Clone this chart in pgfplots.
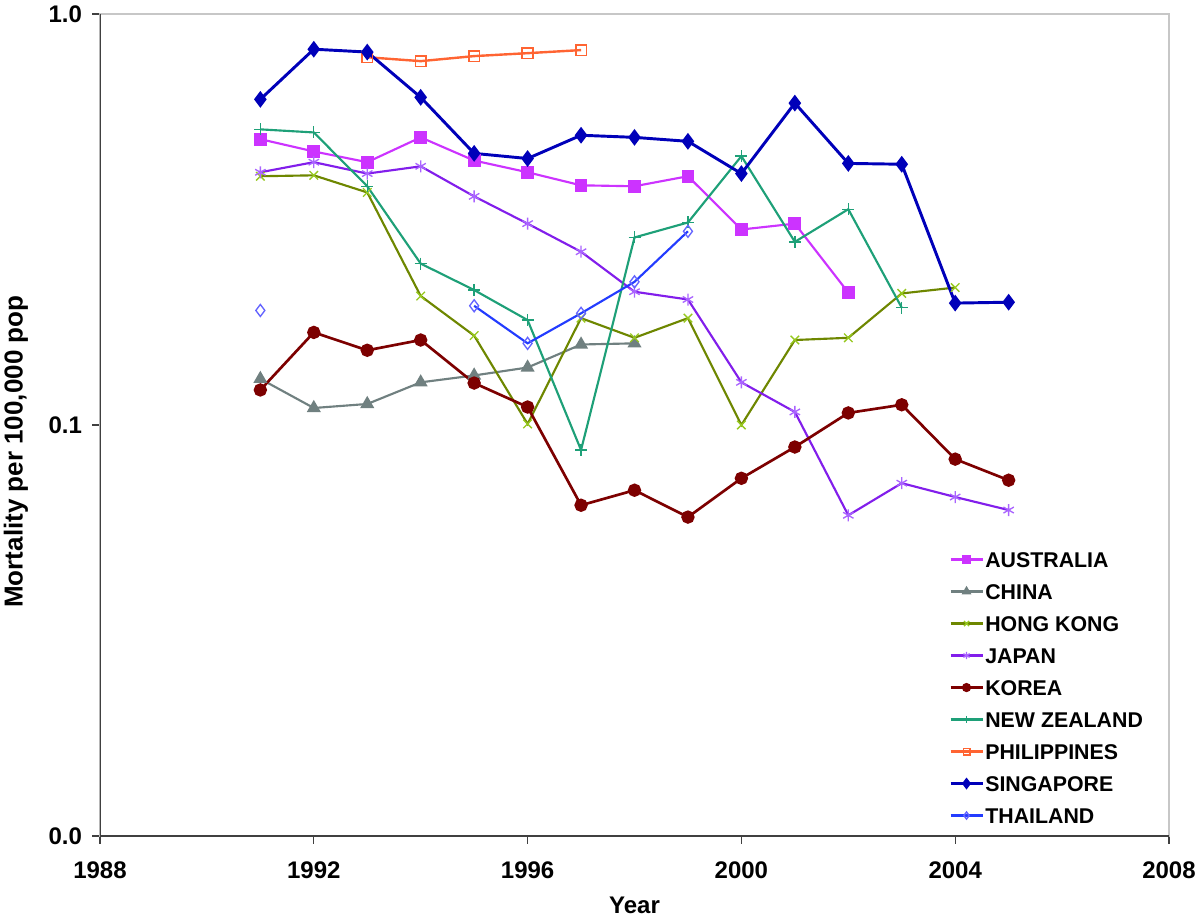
\documentclass[border=0pt]{standalone}
\usepackage{fontspec}
\setmainfont{Liberation Sans}
\usepackage{pgfplots}
\pgfplotsset{compat=1.18}
\definecolor{cAus}{RGB}{204,51,255}
\definecolor{cChi}{RGB}{112,128,128}
\definecolor{cHK}{RGB}{110,135,0}
\definecolor{cHKm}{RGB}{150,200,30}
\definecolor{cJap}{RGB}{130,30,235}
\definecolor{cJapm}{RGB}{170,100,255}
\definecolor{cKor}{RGB}{125,0,0}
\definecolor{cNZ}{RGB}{30,160,120}
\definecolor{cPhi}{RGB}{255,100,50}
\definecolor{cSin}{RGB}{0,0,185}
\definecolor{cTha}{RGB}{35,60,255}
\definecolor{cTham}{RGB}{100,100,255}
\begin{document}
\begin{tikzpicture}
\useasboundingbox (-75pt,-63pt) rectangle (825pt,627pt);
\begin{axis}[
 at={(0pt,0pt)}, anchor=south west,
 scale only axis, width=801.75pt, height=616.5pt,
 xmin=1988, xmax=2008, ymode=log, ymin=0.01, ymax=1,
 xtick={1988,1992,1996,2000,2004,2008},
 xticklabels={1988,1992,1996,2000,2004,2008},
 ytick={0.01,0.1,1}, yticklabels={0.0,0.1,1.0},
 yminorticks=false, xminorticks=false,
 tick align=outside, xtick pos=bottom, ytick pos=left,
 major tick length=6pt,
 tick style={black!75, line width=1pt},
 axis line style={black!22, line width=1.5pt},
 ticklabel style={font=\fontsize{18}{18}\selectfont\bfseries},
 xticklabel style={yshift=-10pt},
 yticklabel style={xshift=-4pt},
 xlabel={Year}, ylabel={Mortality per 100,000 pop},
 every axis x label/.style={at={(axis description cs:0.5,0)}, anchor=center, yshift=-52pt, font=\fontsize{18}{18}\selectfont\bfseries},
 every axis y label/.style={at={(axis description cs:0,0.5)}, rotate=90, anchor=center, yshift=63pt, xshift=-20pt, font=\fontsize{19.5}{19.5}\selectfont\bfseries},
 unbounded coords=jump,
 legend cell align=left,
 legend image code/.code={\draw[mark repeat=2,mark phase=2, every mark/.append style={scale=0.6}] plot coordinates {(0pt,0pt)(12pt,0pt)(24pt,0pt)};},
 legend style={at={(0.794,0.348)}, anchor=north west, draw=none, fill=none, inner sep=0pt,
   font=\fontsize{16}{16}\selectfont\bfseries, row sep=10pt, column sep=0pt,
   nodes={inner sep=1pt, text height=12pt, text depth=0pt, anchor=west}},
]
\addplot[cAus, line width=1.6pt, mark=square*, mark size=4pt, mark options={solid, fill=cAus}] coordinates {(1991,0.496)(1992,0.463)(1993,0.436)(1994,0.501)(1995,0.440)(1996,0.412)(1997,0.383)(1998,0.381)(1999,0.403)(2000,0.299)(2001,0.309)(2002,0.210)};
\addlegendentry{AUSTRALIA}
\addplot[cChi, line width=1.6pt, mark=triangle*, mark size=4.5pt, mark options={fill=cChi}] coordinates {(1991,0.1295)(1992,0.110)(1993,0.1125)(1994,0.127)(1995,0.132)(1996,0.138)(1997,0.157)(1998,0.158)};
\addlegendentry{CHINA}
\addplot[cHK, line width=1.6pt, mark=x, mark size=4.5pt, mark options={cHKm, line width=1pt}] coordinates {(1991,0.403)(1992,0.405)(1993,0.368)(1994,0.206)(1995,0.165)(1996,0.1006)(1997,0.182)(1998,0.163)(1999,0.182)(2000,0.100)(2001,0.161)(2002,0.163)(2003,0.209)(2004,0.216)};
\addlegendentry{HONG KONG}
\addplot[cJap, line width=1.6pt, mark=asterisk, mark size=4.5pt, mark options={cJapm, line width=1pt}] coordinates {(1991,0.412)(1992,0.436)(1993,0.409)(1994,0.426)(1995,0.360)(1996,0.309)(1997,0.264)(1998,0.211)(1999,0.202)(2000,0.127)(2001,0.1076)(2002,0.0603)(2003,0.0722)(2004,0.0668)(2005,0.0621)};
\addlegendentry{JAPAN}
\addplot[cKor, line width=2pt, mark=*, mark size=4pt, mark options={fill=cKor}] coordinates {(1991,0.1217)(1992,0.168)(1993,0.152)(1994,0.161)(1995,0.1265)(1996,0.1106)(1997,0.0638)(1998,0.0694)(1999,0.0597)(2000,0.0742)(2001,0.0884)(2002,0.107)(2003,0.112)(2004,0.0826)(2005,0.0734)};
\addlegendentry{KOREA}
\addplot[cNZ, line width=1.6pt, mark=+, mark size=4.5pt, mark options={line width=1pt}] coordinates {(1991,0.524)(1992,0.515)(1993,0.381)(1994,0.247)(1995,0.213)(1996,0.180)(1997,0.0869)(1998,0.286)(1999,0.311)(2000,0.451)(2001,0.279)(2002,0.335)(2003,0.193)};
\addlegendentry{NEW ZEALAND}
\addplot[cPhi, line width=1.8pt, mark=square, mark size=4pt, mark options={fill=white, line width=1.2pt}] coordinates {(1993,0.785)(1994,0.768)(1995,0.790)(1996,0.803)(1997,0.817)};
\addlegendentry{PHILIPPINES}
\addplot[cSin, line width=2.2pt, mark=diamond*, mark size=4.5pt, mark options={fill=cSin}] coordinates {(1991,0.620)(1992,0.821)(1993,0.808)(1994,0.627)(1995,0.458)(1996,0.445)(1997,0.507)(1998,0.501)(1999,0.490)(2000,0.409)(2001,0.607)(2002,0.433)(2003,0.431)(2004,0.198)(2005,0.199)};
\addlegendentry{SINGAPORE}
\addplot[cTha, line width=1.6pt, mark=diamond, mark size=4.5pt, mark options={cTham, fill=white, line width=1pt}] coordinates {(1991,0.190)(1992,nan)(1995,0.195)(1996,0.158)(1997,0.187)(1998,0.223)(1999,0.296)};
\addlegendentry{THAILAND}
\draw[black!75, line width=1.5pt] (rel axis cs:0,1) -- (rel axis cs:0,0) -- (rel axis cs:1,0);
\end{axis}
\end{tikzpicture}
\end{document}
